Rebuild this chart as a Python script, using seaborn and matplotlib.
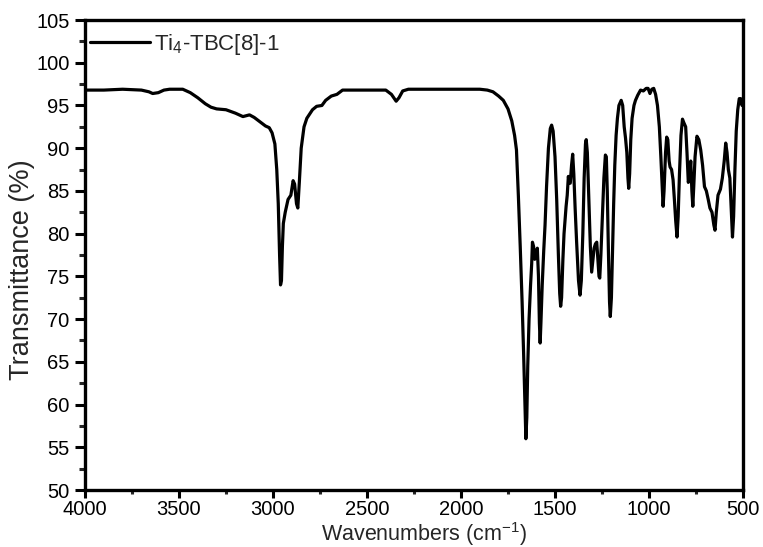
import matplotlib
matplotlib.use("Agg")
import matplotlib.pyplot as plt
from matplotlib.ticker import MultipleLocator
import seaborn as sns
import pandas as pd

wavenumber = [
    4000, 3900, 3800, 3700, 3660, 3640, 3610, 3580, 3550, 3480, 3440, 3400, 3360, 3330,
    3300, 3250, 3200, 3160, 3125, 3100, 3070, 3040, 3020, 3005, 2990, 2980, 2972, 2965,
    2960, 2955, 2950, 2945, 2935, 2920, 2905, 2893, 2885, 2875, 2868, 2860, 2850, 2835,
    2820, 2790, 2768, 2740, 2720, 2690, 2660, 2630, 2540, 2400, 2370, 2345, 2330, 2310,
    2280, 2100, 1900, 1860, 1830, 1800, 1775, 1750, 1730, 1715, 1705, 1695, 1685, 1675,
    1667, 1660, 1655, 1650, 1645, 1638, 1630, 1624, 1620, 1614, 1608, 1600, 1594, 1588,
    1583, 1579, 1575, 1568, 1560, 1553, 1545, 1535, 1525, 1518, 1510, 1500, 1491, 1482,
    1475, 1470, 1465, 1458, 1452, 1447, 1441, 1435, 1429, 1424, 1419, 1412, 1406, 1400,
    1393, 1385, 1375, 1367, 1360, 1352, 1345, 1338, 1334, 1328, 1320, 1312, 1305, 1298,
    1292, 1285, 1278, 1272, 1266, 1262, 1256, 1248, 1240, 1232, 1227, 1222, 1216, 1210,
    1206, 1200, 1194, 1188, 1182, 1175, 1168, 1160, 1148, 1140, 1132, 1125, 1118, 1112,
    1108, 1103, 1097, 1090, 1080, 1072, 1060, 1045, 1030, 1015, 1005, 995, 985, 975,
    965, 955, 945, 937, 930, 925, 920, 912, 906, 900, 893, 888, 880, 872,
    865, 858, 851, 845, 838, 830, 822, 815, 805, 798, 791, 785, 778, 772,
    767, 762, 755, 745, 735, 725, 715, 705, 695, 685, 676, 665, 655, 649,
    642, 633, 620, 610, 600, 592, 585, 578, 570, 563, 556, 550, 543, 536,
    528, 520, 512, 505, 500,
]
transmittance = [
    96.8, 96.8, 96.9, 96.8, 96.6, 96.4, 96.5, 96.8, 96.9, 96.9, 96.5, 95.9, 95.2, 94.8,
    94.6, 94.5, 94.1, 93.7, 93.9, 93.6, 93.1, 92.6, 92.4, 91.8, 90.5, 87.5, 83.5, 77.5,
    74.0, 74.5, 78.5, 81.2, 82.5, 84.0, 84.5, 86.2, 85.8, 83.5, 83.0, 86.0, 90.0, 92.5,
    93.5, 94.5, 94.9, 95.0, 95.6, 96.1, 96.3, 96.8, 96.8, 96.8, 96.3, 95.5, 95.9, 96.7,
    96.9, 96.9, 96.9, 96.8, 96.6, 96.1, 95.6, 94.6, 93.2, 91.5, 89.8, 84.5, 78.5, 72.0,
    66.0, 60.0, 56.0, 58.5, 64.5, 70.0, 74.0, 76.5, 79.0, 78.5, 77.0, 77.3, 78.3, 75.0,
    69.5, 67.2, 69.5, 74.0, 78.0, 81.0, 85.5, 90.0, 92.3, 92.7, 92.0, 89.0, 84.0, 77.5,
    73.0, 71.5, 72.5, 77.0, 80.0, 81.5, 83.2, 84.5, 86.7, 86.0, 85.9, 88.0, 89.3, 87.0,
    83.0, 79.0, 74.5, 72.8, 74.5, 80.0, 86.5, 90.5, 91.0, 89.5, 84.0, 78.5, 75.5, 77.0,
    78.3, 78.8, 79.0, 77.0, 75.0, 74.8, 77.5, 82.0, 86.5, 89.2, 89.0, 85.0, 78.0, 72.0,
    70.3, 72.5, 78.0, 83.5, 88.0, 91.5, 93.5, 95.0, 95.6, 95.0, 92.5, 91.2, 89.5, 86.5,
    85.3, 87.0, 91.0, 93.5, 95.0, 95.6, 96.2, 96.8, 96.7, 97.0, 97.0, 96.4, 96.9, 97.0,
    96.3, 95.0, 92.5, 89.0, 85.5, 83.2, 85.0, 89.5, 91.3, 91.0, 88.5, 87.8, 87.5, 86.3,
    84.0, 81.5, 79.6, 82.0, 87.0, 91.5, 93.4, 93.0, 92.5, 89.5, 86.0, 86.5, 88.5, 85.0,
    83.2, 85.5, 89.0, 91.4, 91.0, 89.8, 88.0, 85.5, 85.0, 84.0, 83.0, 82.5, 81.0, 80.4,
    82.5, 84.5, 85.2, 86.5, 88.5, 90.6, 89.5, 87.5, 86.5, 83.0, 79.6, 82.0, 87.5, 92.0,
    94.5, 95.8, 95.8, 95.0, 95.6,
]
series_label = "Ti$_4$-TBC[8]-1"

df = pd.DataFrame({"Wavenumber": wavenumber, "Transmittance": transmittance})

sns.set_style("ticks")
plt.rcParams["font.family"] = ["Liberation Sans", "DejaVu Sans"]
plt.rcParams["mathtext.fontset"] = "custom"
plt.rcParams["mathtext.rm"] = "Liberation Sans"
plt.rcParams["mathtext.it"] = "Liberation Sans"

fig = plt.figure(figsize=(7.63, 5.47), dpi=100)
ax = fig.add_axes([0.1114, 0.1042, 0.8624, 0.8592])

sns.lineplot(data=df, x="Wavenumber", y="Transmittance", sort=False, ax=ax,
             color="black", linewidth=2.3, label=series_label, estimator=None)

ax.set_xlim(4000, 500)
ax.set_ylim(50, 105)
ax.xaxis.set_major_locator(MultipleLocator(500))
ax.xaxis.set_minor_locator(MultipleLocator(250))
ax.yaxis.set_major_locator(MultipleLocator(5))
ax.yaxis.set_minor_locator(MultipleLocator(2.5))
ax.tick_params(axis="y", which="major", direction="out", length=7.5, width=2.2,
               labelsize=14.5, colors="black", right=False, pad=3.5)
ax.tick_params(axis="y", which="minor", direction="out", length=4, width=2.2, right=False)
ax.tick_params(axis="x", which="major", direction="out", length=5.5, width=2.2,
               labelsize=14.5, colors="black", top=False, pad=2)
ax.tick_params(axis="x", which="minor", direction="out", length=3, width=2.2, top=False)
for s in ax.spines.values():
    s.set_linewidth(2.4)
    s.set_color("black")

ax.set_xlabel("Wavenumbers (cm$^{-1}$)", fontsize=15.5)
ax.xaxis.set_label_coords(0.515, -0.065)
ax.set_ylabel("Transmittance (%)", fontsize=19.5)
ax.yaxis.set_label_coords(-0.076, 0.468)

leg = ax.legend(loc="upper left", frameon=False, fontsize=16, handlelength=2.7,
                handletextpad=0.2, borderpad=0, borderaxespad=0,
                bbox_to_anchor=(5 / 658, 1 - 12 / 470))

fig.savefig("out.png", dpi=100)
